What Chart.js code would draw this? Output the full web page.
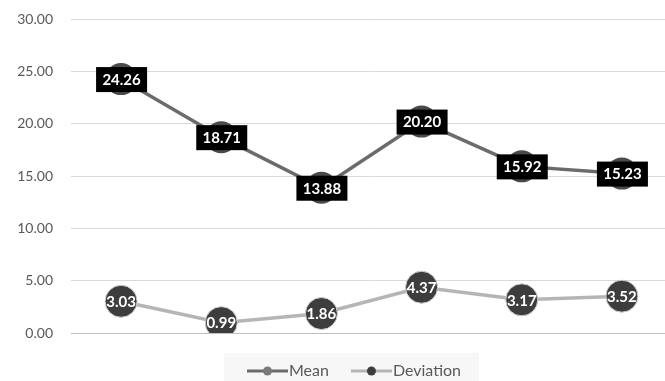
<!DOCTYPE html>
<html>
<head>
<meta charset="utf-8">
<script src="https://cdn.jsdelivr.net/npm/chart.js@4.4.1/dist/chart.umd.min.js"></script>
<style>
  html, body { margin: 0; padding: 0; background: #fff; overflow: hidden; }
  #wrap { width: 691px; height: 389px; }
</style>
</head>
<body>
<div id="wrap"><canvas id="chart" width="691" height="389"></canvas></div>
<script>
// データ
const categories = ["1", "2", "3", "4", "5", "6"];
const meanValues = [24.26, 18.71, 13.88, 20.20, 15.92, 15.23];
const deviationValues = [3.03, 0.99, 1.86, 4.37, 3.17, 3.52];
const yTicks = [0, 5, 10, 15, 20, 25, 30];

const FONT = "Lato, 'Open Sans', sans-serif";
const LEGEND_SHIFT = 14;

// 凡例用のアイコン (線 + 点) 左側は透明
function legendIcon(lineColor, dotColor) {
  const c = document.createElement("canvas");
  c.width = 56;
  c.height = 10;
  const g = c.getContext("2d");
  g.strokeStyle = lineColor;
  g.lineWidth = 3;
  g.beginPath();
  g.moveTo(15, 5);
  g.lineTo(56, 5);
  g.stroke();
  g.fillStyle = dotColor;
  g.beginPath();
  g.arc(35.5, 5, 4.5, 0, Math.PI * 2);
  g.fill();
  return c;
}

// 凡例の位置調整と背景
const legendBg = {
  id: "legendBg",
  afterLayout(chart) {
    const lg = chart.legend;
    if (!lg) return;
    lg.left += LEGEND_SHIFT;
    lg.right += LEGEND_SHIFT;
  },
  beforeDraw(chart) {
    const lg = chart.legend;
    if (!lg || !lg.legendHitBoxes.length) return;
    const boxes = lg.legendHitBoxes;
    const last = boxes[boxes.length - 1];
    const left = boxes[0].left - 15;
    const right = last.left + last.width + 18;
    const ctx = chart.ctx;
    ctx.save();
    ctx.fillStyle = "#f7f7f7";
    ctx.fillRect(left, 353, right - left, 40);
    ctx.restore();
  }
};

// データラベル
const valueLabels = {
  id: "valueLabels",
  afterDatasetsDraw(chart) {
    const ctx = chart.ctx;
    ctx.save();
    ctx.textAlign = "center";
    ctx.textBaseline = "middle";
    chart.data.datasets.forEach((ds, di) => {
      const meta = chart.getDatasetMeta(di);
      meta.data.forEach((pt, i) => {
        const txt = ds.data[i].toFixed(2);
        ctx.font = "bold 15px " + FONT;
        if (di === 0) {
          ctx.fillStyle = "#000";
          ctx.fillRect(pt.x - 25, pt.y - 12, 51, 25);
          ctx.fillStyle = "#fff";
          ctx.fillText(txt, pt.x + 0.5, pt.y + 1);
        } else {
          ctx.fillStyle = "#fff";
          ctx.fillText(txt, pt.x, pt.y + 1, 33);
        }
      });
    });
    ctx.restore();
  }
};

new Chart(document.getElementById("chart"), {
  type: "line",
  data: {
    labels: categories,
    datasets: [
      {
        label: "Mean",
        data: meanValues,
        borderColor: "#6b6b6b",
        borderWidth: 3.5,
        pointRadius: 16,
        pointBackgroundColor: "#4a4a4a",
        pointBorderWidth: 0,
        pointStyle: "circle",
        tension: 0
      },
      {
        label: "Deviation",
        data: deviationValues,
        borderColor: "#b5b5b5",
        borderWidth: 3.5,
        pointRadius: 16,
        pointBackgroundColor: "#3d3d3d",
        pointBorderColor: "#d0d0d0",
        pointBorderWidth: 1,
        pointStyle: "circle",
        tension: 0
      }
    ]
  },
  options: {
    responsive: false,
    animation: false,
    layout: { padding: { left: 0, right: 19, top: 19, bottom: 0 } },
    scales: {
      x: {
        offset: true,
        border: { display: false },
        grid: { display: false },
        ticks: { display: false },
        afterFit: axis => { axis.height = 16; }
      },
      y: {
        min: 0,
        max: 30,
        afterBuildTicks: axis => { axis.ticks = yTicks.map(v => ({ value: v })); },
        afterFit: axis => { axis.width = 71; },
        border: { display: false },
        grid: {
          drawTicks: true,
          tickLength: 18,
          tickColor: "rgba(0,0,0,0)",
          color: ctx => ctx.tick && ctx.tick.value === 0 ? "#bfbfbf" : "#d9d9d9",
          lineWidth: 1
        },
        ticks: {
          padding: 0,
          color: "#595959",
          font: { family: FONT, size: 14 },
          callback: v => Number(v).toFixed(2)
        }
      }
    },
    plugins: {
      tooltip: { enabled: false },
      legend: {
        position: "bottom",
        labels: {
          usePointStyle: true,
          pointStyleWidth: 42,
          padding: 14,
          color: "#595959",
          font: { family: FONT, size: 16 },
          generateLabels: chart => [
            { text: "Mean", pointStyle: legendIcon("#6b6b6b", "#7a7a7a"), fontColor: "#595959", datasetIndex: 0, lineWidth: 0 },
            { text: "Deviation", pointStyle: legendIcon("#b5b5b5", "#3d3d3d"), fontColor: "#595959", datasetIndex: 1, lineWidth: 0 }
          ]
        }
      }
    }
  },
  plugins: [legendBg, valueLabels]
});
</script>
</body>
</html>
